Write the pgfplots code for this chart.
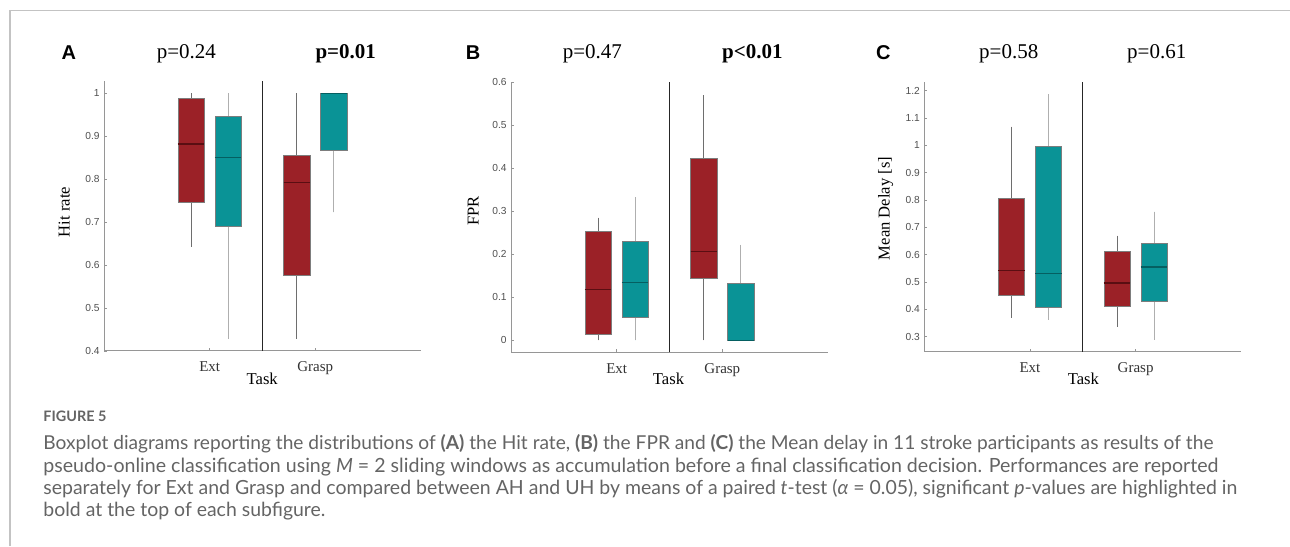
\documentclass[border=0pt]{standalone}
\usepackage{fontspec}
\setmainfont{Liberation Serif}
\setsansfont{Liberation Sans}
\newfontfamily\capfont{Lato}
\usepackage{graphicx}
\usepackage{pgfplots}
\pgfplotsset{compat=1.18}
\usepgfplotslibrary{statistics}

\definecolor{cred}{RGB}{155,33,39}
\definecolor{cteal}{RGB}{10,147,150}
\definecolor{mred}{RGB}{90,14,18}
\definecolor{mteal}{RGB}{5,95,97}
\definecolor{wred}{RGB}{110,110,110}
\definecolor{wteal}{RGB}{175,175,175}
\definecolor{edge}{RGB}{125,125,125}
\definecolor{axgray}{RGB}{150,150,150}
\definecolor{ticklab}{RGB}{80,80,80}
\definecolor{capgray}{RGB}{100,100,100}
\definecolor{framegray}{RGB}{195,195,195}

\tikzset{divider/.style={draw=black!85, line width=0.6pt}}
\pgfplotsset{
  panel/.style={
    scale only axis, width=158.5pt, height=135pt,
    xmin=0, xmax=3, clip=false,
    axis lines=left,
    axis line style={-, draw=axgray, line width=0.5pt},
    tick align=inside, major tick length=1.5pt,
    tick style={draw=axgray, line width=0.4pt},
    xtick={1,2}, xticklabels={Ext,Grasp},
    x tick label style={font=\fontsize{7.5}{8}\selectfont, text=black!80, anchor=base, yshift=-10.5pt, inner sep=0pt},
    y tick label style={font=\fontsize{5.1}{6}\selectfont\sffamily, text=ticklab, anchor=east, inner sep=0pt, xshift=-2pt},
    /pgf/number format/assume math mode=true,
    boxplot/draw direction=y,
  },
  redbox/.style={fill=cred, draw=edge, line width=0.4pt, mark=none,
    boxplot/every whisker/.style={draw=wred, line width=0.5pt},
    boxplot/every median/.style={draw=mred, line width=0.75pt}},
  tealbox/.style={fill=cteal, draw=edge, line width=0.4pt, mark=none,
    boxplot/every whisker/.style={draw=wteal, line width=0.5pt},
    boxplot/every median/.style={draw=mteal, line width=0.75pt}},
}

\begin{document}
\begin{tikzpicture}
\useasboundingbox (0,0) rectangle (645pt,273pt);
% frame
\draw[framegray, line width=0.65pt] (5pt,0pt) -- (5pt,267.85pt) -- (645pt,267.85pt);

% ---------------- Panel A ----------------
\begin{axis}[panel, at={(52pt,97.5pt)}, anchor=south west,
  ymin=0.4, ymax=1.0286, ytick={0.4,0.5,0.6,0.7,0.8,0.9,1}]
\addplot[redbox, boxplot prepared={draw position=0.825, box extend=0.25, whisker extend=0,
  lower whisker=0.643, lower quartile=0.747, median=0.882, upper quartile=0.988, upper whisker=1.0}] coordinates {};
\addplot[tealbox, boxplot prepared={draw position=1.175, box extend=0.25, whisker extend=0,
  lower whisker=0.428, lower quartile=0.691, median=0.850, upper quartile=0.947, upper whisker=1.0}] coordinates {};
\addplot[redbox, boxplot prepared={draw position=1.825, box extend=0.25, whisker extend=0,
  lower whisker=0.428, lower quartile=0.577, median=0.792, upper quartile=0.856, upper whisker=1.0}] coordinates {};
\addplot[tealbox, boxplot prepared={draw position=2.175, box extend=0.25, whisker extend=0,
  lower whisker=0.723, lower quartile=0.867, median=1.0, upper quartile=1.0, upper whisker=1.0}] coordinates {};
\draw[divider] (axis cs:1.5,0.4) -- (axis cs:1.5,1.0286);
\end{axis}

% ---------------- Panel B ----------------
\begin{axis}[panel, at={(255.5pt,96.85pt)}, anchor=south west,
  ymin=-0.028, ymax=0.6, ytick={0,0.1,0.2,0.3,0.4,0.5,0.6}]
\addplot[redbox, boxplot prepared={draw position=0.825, box extend=0.25, whisker extend=0,
  lower whisker=0.0, lower quartile=0.013, median=0.118, upper quartile=0.253, upper whisker=0.285}] coordinates {};
\addplot[tealbox, boxplot prepared={draw position=1.175, box extend=0.25, whisker extend=0,
  lower whisker=0.0, lower quartile=0.053, median=0.134, upper quartile=0.230, upper whisker=0.333}] coordinates {};
\addplot[redbox, boxplot prepared={draw position=1.825, box extend=0.25, whisker extend=0,
  lower whisker=0.0, lower quartile=0.144, median=0.207, upper quartile=0.422, upper whisker=0.570}] coordinates {};
\addplot[tealbox, boxplot prepared={draw position=2.175, box extend=0.25, whisker extend=0,
  lower whisker=0.0, lower quartile=0.0, median=0.0, upper quartile=0.133, upper whisker=0.222}] coordinates {};
\draw[divider] (axis cs:1.5,-0.028) -- (axis cs:1.5,0.6);
\end{axis}

% ---------------- Panel C ----------------
\begin{axis}[panel, at={(462.15pt,97.15pt)}, anchor=south west,
  ymin=0.245, ymax=1.233, ytick={0.3,0.4,0.5,0.6,0.7,0.8,0.9,1,1.1,1.2}]
\addplot[redbox, boxplot prepared={draw position=0.825, box extend=0.25, whisker extend=0,
  lower whisker=0.369, lower quartile=0.451, median=0.542, upper quartile=0.807, upper whisker=1.069}] coordinates {};
\addplot[tealbox, boxplot prepared={draw position=1.175, box extend=0.25, whisker extend=0,
  lower whisker=0.361, lower quartile=0.407, median=0.531, upper quartile=0.996, upper whisker=1.187}] coordinates {};
\addplot[redbox, boxplot prepared={draw position=1.825, box extend=0.25, whisker extend=0,
  lower whisker=0.336, lower quartile=0.412, median=0.497, upper quartile=0.611, upper whisker=0.670}] coordinates {};
\addplot[tealbox, boxplot prepared={draw position=2.175, box extend=0.25, whisker extend=0,
  lower whisker=0.289, lower quartile=0.430, median=0.555, upper quartile=0.642, upper whisker=0.758}] coordinates {};
\draw[divider] (axis cs:1.5,0.245) -- (axis cs:1.5,1.233);
\end{axis}

% ---------------- Texts ----------------
\tikzset{pvtxt/.style={anchor=base, inner sep=0pt, font=\fontsize{10.5}{12}\selectfont},
         lettxt/.style={anchor=base, inner sep=0pt, font=\fontsize{10}{12}\selectfont\sffamily\bfseries},
         yltxt/.style={rotate=90, anchor=center, inner sep=0pt, font=\fontsize{8.3}{10}\selectfont},
         xltxt/.style={anchor=base, inner sep=0pt, font=\fontsize{8.3}{10}\selectfont},
         captxt/.style={anchor=base west, inner sep=0pt, text=capgray, font=\capfont\fontsize{8}{10}\selectfont}}
\node[lettxt] at (34.4pt,243pt) {A};
\node[lettxt] at (236.5pt,243.3pt) {B};
\node[lettxt] at (441.65pt,243.3pt) {C};
\node[pvtxt] at (93.15pt,243.85pt) {p=0.24};
\node[pvtxt] at (172.85pt,243.85pt) {\bfseries p=0.01};
\node[pvtxt] at (296.15pt,243.85pt) {p=0.47};
\node[pvtxt] at (376.15pt,243.85pt) {\bfseries p<0.01};
\node[pvtxt] at (504.35pt,243.85pt) {p=0.58};
\node[pvtxt] at (578.35pt,243.85pt) {p=0.61};
\node[yltxt] at (32.15pt,167pt) {Hit rate};
\node[yltxt] at (236.65pt,167.6pt) {FPR};
\node[yltxt] at (442.8pt,168.8pt) {Mean Delay [s]};
\node[xltxt] at (131.1pt,80.85pt) {Task};
\node[xltxt] at (334.25pt,80.85pt) {Task};
\node[xltxt] at (541.65pt,80.85pt) {Task};

% ---------------- Caption ----------------
\node[captxt] at (21.5pt,62.25pt) {\resizebox{31.5pt}{!}{\bfseries FIGURE 5}};
\node[captxt] at (21.5pt,48pt) {\resizebox{585pt}{!}{Boxplot diagrams reporting the distributions of {\bfseries (A)} the Hit rate, {\bfseries (B)} the FPR and {\bfseries (C)} the Mean delay in 11 stroke participants as results of the}};
\node[captxt] at (21.5pt,36.85pt) {\resizebox{587.5pt}{!}{pseudo-online classification using \textit{M} = 2 sliding windows as accumulation before a final classification decision. Performances are reported}};
\node[captxt] at (21.5pt,25.7pt) {\resizebox{597pt}{!}{separately for Ext and Grasp and compared between AH and UH by means of a paired \textit{t}-test (\textit{α} = 0.05), significant \textit{p}-values are highlighted in}};
\node[captxt] at (21.5pt,14.5pt) {\resizebox{141pt}{!}{bold at the top of each subfigure.}};
\end{tikzpicture}
\end{document}
